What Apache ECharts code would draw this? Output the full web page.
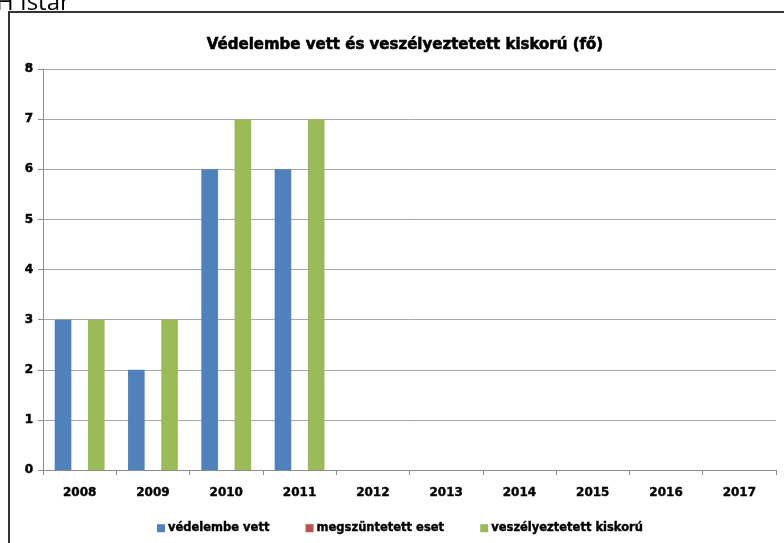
<!DOCTYPE html>
<html><head><meta charset="utf-8">
<script src="https://cdn.jsdelivr.net/npm/echarts@6/dist/echarts.min.js"></script>
<style>html,body{margin:0;padding:0;background:#fff}#c{width:784px;height:543px}</style>
</head><body><div id="c"></div>
<script>
const categories = ['2008','2009','2010','2011','2012','2013','2014','2015','2016','2017'];
const vedelembeVett = [3, 2, 6, 6, null, null, null, null, null, null];
const megszuntetettEset = [0, 0, 0, 0, null, null, null, null, null, null];
const veszelyeztetettKiskoru = [3, 3, 7, 7, null, null, null, null, null, null];
const yTicks = [0,1,2,3,4,5,6,7,8];

const font = 'DejaVu Sans';
const heavy = {textBorderColor: '#000', textBorderWidth: 0.6};
const chart = echarts.init(document.getElementById('c'), null, {renderer:'canvas'});
chart.setOption({
  animation: false,
  color: ['#4f81bd','#c0504d','#9bbb59'],
  title: {
    text: 'Védelembe vett és veszélyeztetett kiskorú (fő)',
    left: 400, top: 33, textAlign: 'center',
    textStyle: Object.assign({fontFamily: font, fontWeight: 'bold', fontSize: 15, color: '#000'}, heavy)
  },
  legend: {
    left: 152, top: 517, itemWidth: 8, itemHeight: 8, itemGap: 36,
    icon: 'rect',
    textStyle: Object.assign({fontFamily: font, fontWeight: 'bold', fontSize: 11.5, color: '#000', padding: [0,0,0,-2]}, {textBorderColor:'#000', textBorderWidth:0.4}),
    data: ['védelembe vett','megszüntetett eset','veszélyeztetett kiskorú']
  },
  grid: {left: 43, right: 8, top: 69, bottom: 73, containLabel: false},
  xAxis: {
    type: 'category', data: categories,
    axisLine: {lineStyle: {color: '#8c8c8c'}},
    axisTick: {show: true, length: 5, lineStyle: {color: '#8c8c8c'}},
    axisLabel: Object.assign({fontFamily: font, fontWeight: 'bold', fontSize: 12, color: '#000', margin: 17}, {textBorderColor:'#000', textBorderWidth:0.4})
  },
  yAxis: {
    type: 'value', min: yTicks[0], max: yTicks[yTicks.length-1], interval: 1,
    axisLine: {show: true, lineStyle: {color: '#8c8c8c'}},
    axisTick: {show: true, length: 5, lineStyle: {color: '#8c8c8c'}},
    splitLine: {lineStyle: {color: '#a6a6a6'}},
    axisLabel: Object.assign({fontFamily: font, fontWeight: 'bold', fontSize: 12, color: '#000', margin: 10}, {textBorderColor:'#000', textBorderWidth:0.5})
  },
  series: [
    {name: 'védelembe vett', type: 'bar', data: vedelembeVett, barGap: '0%', barCategoryGap: '32%'},
    {name: 'megszüntetett eset', type: 'bar', data: megszuntetettEset, barGap: '0%', barCategoryGap: '32%'},
    {name: 'veszélyeztetett kiskorú', type: 'bar', data: veszelyeztetettKiskoru, barGap: '0%', barCategoryGap: '32%'}
  ],
  graphic: [
    {type: 'text', left: -4, top: -9, style: {text: 'H Istar', font: '24px "Open Sans", sans-serif', fill: '#000'}, z: 1},
    {type: 'rect', shape: {x: 9, y: 12, width: 800, height: 600}, style: {fill: '#fff', stroke: '#333', lineWidth: 2}, z: -10, silent: true}
  ]
});
</script></body></html>
